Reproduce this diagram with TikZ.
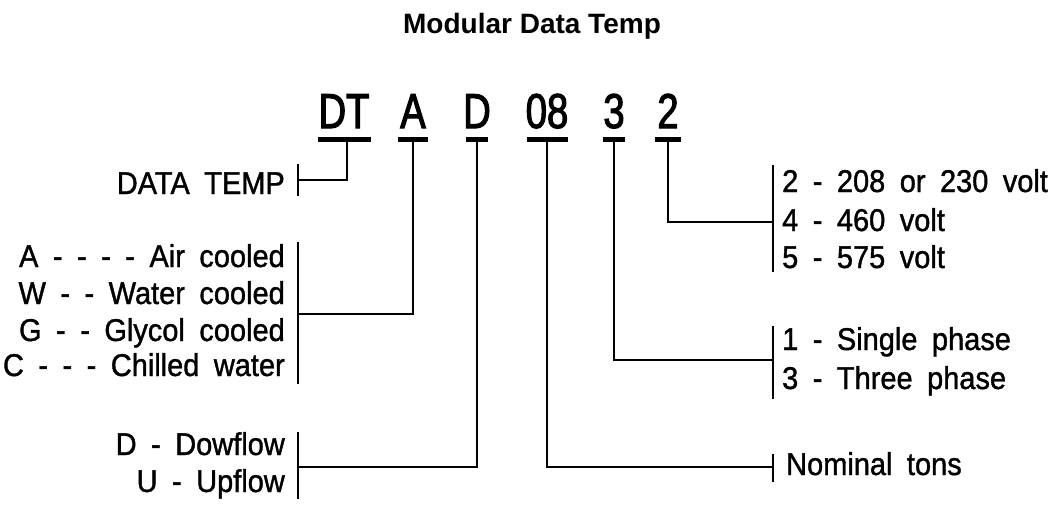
\documentclass[tikz,border=0pt]{standalone}
\usepackage{fontspec}
\setmainfont{Liberation Sans}
\newfontfamily\codefont[FakeStretch=0.78,FakeBold=2.2]{Liberation Sans}
\newfontfamily\labfont[FakeStretch=0.92,WordSpace=1.8,FakeBold=1.2]{Liberation Sans}
\tikzset{
  code/.style={font=\codefont\fontsize{49}{52}\selectfont, inner sep=0pt, anchor=base},
  labl/.style={font=\labfont\fontsize{31.5}{36}\selectfont, inner sep=0pt, anchor=base east},
  labr/.style={font=\labfont\fontsize{31.5}{36}\selectfont, inner sep=0pt, anchor=base west},
  bar/.style={line width=5pt},
  conn/.style={line width=2.4pt},
  tick/.style={line width=2.4pt}
}
\begin{document}
\begin{tikzpicture}[x=1pt,y=-1pt]
\useasboundingbox (0,0) rectangle (1063,506);
% title
\node[font=\bfseries\fontsize{28}{30}\selectfont, inner sep=0pt, anchor=base] (title) at (532,33) {Modular Data Temp};
% code letters
\node[code] (cDT) at (344,128) {DT};
\node[code] (cA) at (413,128) {A};
\node[code] (cD) at (477,128) {D};
\node[code] (c08) at (547,128) {08};
\node[code] (c3) at (614,128) {3};
\node[code] (c2) at (668,128) {2};
% bars
\draw[bar] (318,139) -- (371,139);
\draw[bar] (398,139) -- (428,139);
\draw[bar] (466,139) -- (488,139);
\draw[bar] (527,139) -- (568,139);
\draw[bar] (603,139) -- (625,139);
\draw[bar] (655,139) -- (681,139);
\coordinate (sDT) at (347,139);
\coordinate (sA) at (413,139);
\coordinate (sD) at (477,139);
\coordinate (s08) at (547,139);
\coordinate (s3) at (614,139);
\coordinate (s2) at (668,139);
% left ticks
\coordinate (tDT) at (298,180);
\coordinate (tA) at (298,314);
\coordinate (tD) at (298,467);
\draw[tick] (298,164) -- (298,196);
\draw[tick] (298,242) -- (298,384);
\draw[tick] (298,432) -- (298,499);
% right ticks
\coordinate (t2) at (773,222);
\coordinate (t3) at (773,360);
\coordinate (t08) at (773,467);
\draw[tick] (773,165) -- (773,272);
\draw[tick] (773,326) -- (773,399);
\draw[tick] (773,454) -- (773,482);
% connectors
\draw[conn] (sDT) |- (tDT);
\draw[conn] (sA) |- (tA);
\draw[conn] (sD) |- (tD);
\draw[conn] (s08) |- (t08);
\draw[conn] (s3) |- (t3);
\draw[conn] (s2) |- (t2);
% left labels
\node[labl] (lDT) at (285,194) {DATA TEMP};
\node[labl] (lA1) at (285,267) {A - - - - Air cooled};
\node[labl] (lA2) at (285,304) {W - - Water cooled};
\node[labl] (lA3) at (285,341) {G - - Glycol cooled};
\node[labl] (lA4) at (285,376) {C - - - Chilled water};
\node[labl] (lD1) at (285,455) {D - Dowflow};
\node[labl] (lD2) at (285,492) {U - Upflow};
% right labels
\node[labr] (r21) at (782,192) {2 - 208 or 230 volt};
\node[labr] (r22) at (782,231) {4 - 460 volt};
\node[labr] (r23) at (782,268) {5 - 575 volt};
\node[labr] (r31) at (782,350) {1 - Single phase};
\node[labr] (r32) at (782,389) {3 - Three phase};
\node[labr] (r08) at (786,475) {Nominal tons};
\end{tikzpicture}
\end{document}
